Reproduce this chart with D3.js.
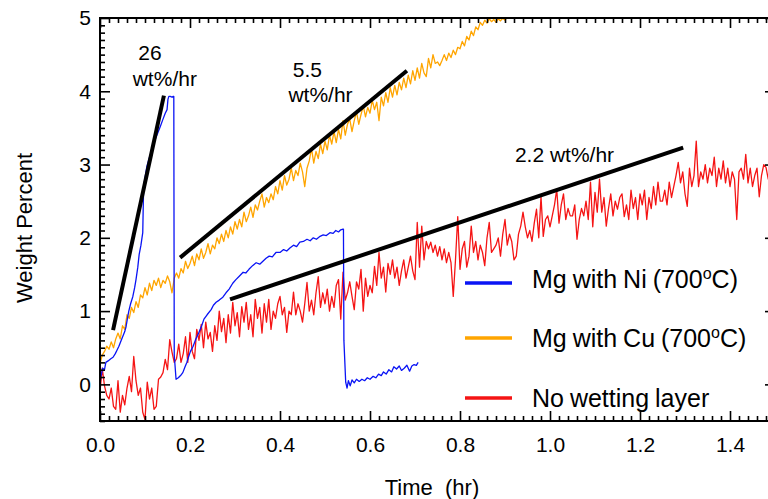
<!DOCTYPE html>
<html>
<head>
<meta charset="utf-8">
<script src="https://cdn.jsdelivr.net/npm/d3@7"></script>
<style>
  html, body { margin: 0; padding: 0; background: #fff; }
  svg { display: block; font-family: "Liberation Sans", Arial, sans-serif; }
</style>
</head>
<body>
<svg id="chart" width="768" height="499"></svg>
<script>
// ---- Data -------------------------------------------------------------
// Mg with Ni (700 °C): irregularly sampled [time (hr), weight %]
const niTime = [0.000,0.002,0.006,0.010,0.013,0.018,0.024,0.029,0.034,0.038,0.042,0.047,0.051,0.055,0.058,0.061,0.064,0.068,0.073,0.077,0.080,0.084,0.087,0.091,0.095,0.096,0.097,0.100,0.104,0.109,0.113,0.118,0.123,0.129,0.134,0.140,0.145,0.149,0.151,0.153,0.156,0.160,0.163,0.164,0.165,
  0.169,0.174,0.179,0.184,0.189,0.193,0.196,0.201,0.207,0.213,0.220,0.226,0.231,0.238,0.247,0.252,0.258,0.265,0.273,0.280,0.287,0.295,0.302,0.310,0.318,0.324,0.331,0.339,0.347,0.355,0.362,0.369,0.376,0.383,0.391,0.400,0.408,0.415,0.422,0.430,0.437,0.444,0.452,0.460,0.467,0.474,0.481,0.489,0.496,0.503,0.511,0.518,0.524,0.530,0.535,0.540,0.541,0.542,
  0.546,0.549,0.552,0.556,0.560,0.565,0.570,0.576,0.582,0.588,0.594,0.600,0.607,0.613,0.619,0.625,0.630,0.636,0.642,0.648,0.653,0.659,0.665,0.670,0.676,0.682,0.688,0.693,0.698,0.703,0.707];
const niWeight = [0.00,0.11,0.22,0.20,0.30,0.32,0.35,0.37,0.42,0.47,0.52,0.60,0.66,0.72,0.79,0.90,1.00,1.10,1.20,1.32,1.43,1.60,1.77,1.90,2.07,2.40,2.70,2.82,2.97,3.08,3.15,3.25,3.35,3.44,3.52,3.62,3.70,3.75,3.89,3.93,3.93,3.92,3.93,3.93,0.40,
  0.07,0.09,0.12,0.16,0.24,0.30,0.36,0.45,0.52,0.62,0.71,0.80,0.89,0.95,1.02,1.08,1.12,1.15,1.19,1.25,1.30,1.38,1.43,1.48,1.53,1.52,1.57,1.62,1.66,1.64,1.68,1.72,1.75,1.74,1.80,1.80,1.84,1.82,1.86,1.90,1.88,1.94,1.95,1.98,1.96,2.00,1.98,2.02,2.04,2.03,2.07,2.06,2.10,2.08,2.11,2.12,2.12,0.60,
  0.03,-0.05,0.05,-0.02,0.06,0.02,0.07,0.04,0.07,0.05,0.09,0.07,0.11,0.09,0.14,0.12,0.17,0.14,0.20,0.17,0.24,0.21,0.25,0.19,0.22,0.26,0.18,0.25,0.27,0.26,0.30];

// Mg with Cu (700 °C): logged every 0.005 hr from t = 0
const cuStep = 0.005;
const cuWeight = [0.28,0.40,0.45,0.52,0.48,0.58,0.50,0.62,0.70,0.62,0.80,0.75,0.95,0.90,1.05,0.98,1.13,1.05,1.22,1.18,1.32,1.22,1.38,1.28,1.42,1.35,1.45,1.32,1.42,1.38,1.48,1.40,
  1.25,1.45,1.52,1.45,1.58,1.52,1.68,1.58,1.65,1.75,1.62,1.78,1.70,1.85,1.72,1.80,1.92,1.78,1.90,1.85,2.00,1.92,2.05,1.95,2.10,2.00,2.15,2.05,2.22,2.12,2.25,2.15,
  2.35,2.22,2.30,2.42,2.28,2.45,2.38,2.50,2.60,2.42,2.55,2.48,2.60,2.52,2.70,2.60,2.78,2.65,2.85,2.72,2.80,2.95,2.78,2.92,2.85,3.02,2.90,2.70,2.95,3.05,3.22,3.02,3.18,3.08,3.28,3.15,3.32,3.20,3.40,3.28,3.45,3.30,3.48,3.35,3.60,3.40,3.55,3.62,3.45,
  3.60,3.72,3.55,3.68,3.80,3.65,3.78,3.70,3.88,3.75,3.85,3.60,3.92,3.80,3.98,3.85,4.05,3.92,4.08,3.95,4.12,4.02,4.18,4.05,4.22,4.10,4.28,4.15,4.32,4.18,4.38,4.25,4.20,4.45,4.32,4.50,4.38,
  4.40,4.35,4.42,4.50,4.42,4.52,4.46,4.56,4.50,4.60,
  4.58,4.68,4.62,4.75,4.70,4.82,4.76,4.88,4.84,4.94,4.90,4.97,4.93,4.99,4.95,4.98,4.94,4.99,4.96,5.00,4.97,5.02,5.10];

// No wetting layer: logged every 0.005 hr from t = 0
const bareStep = 0.005;
const bareWeight = [-0.10,0.22,-0.02,-0.15,-0.20,-0.05,-0.30,-0.34,0.05,-0.38,-0.15,-0.28,-0.05,0.11,-0.10,0.38,0.05,-0.15,-0.05,-0.38,-0.48,0.03,-0.20,-0.05,-0.34,-0.30,0.07,0.10,0.16,0.34,0.20,
  0.61,0.44,0.30,0.35,0.55,0.30,0.42,0.65,0.30,0.71,0.45,0.35,0.75,0.60,0.82,0.50,0.85,0.62,0.71,0.45,0.80,0.60,1.00,0.72,0.90,0.57,0.95,0.70,1.12,0.80,0.98,0.65,1.06,0.85,1.12,0.75,0.95,0.65,1.16,0.90,1.05,0.70,1.10,0.85,1.16,
  0.75,1.00,0.90,1.10,1.20,0.95,1.05,0.71,1.00,0.95,1.26,0.95,1.10,1.00,0.85,1.10,1.39,1.00,1.15,0.95,1.25,1.47,1.05,1.25,1.10,1.30,1.00,1.20,1.05,1.35,1.43,0.89,1.53,1.15,1.25,1.40,1.20,1.02,1.40,1.30,1.57,1.00,1.45,1.20,1.35,1.25,1.61,1.35,1.80,1.45,1.60,1.26,1.65,1.50,1.70,1.45,1.60,1.35,1.55,1.70,1.45,1.60,1.75,1.55,1.43,
  2.21,1.60,2.16,1.70,1.95,1.85,1.94,1.80,1.90,1.75,1.88,1.70,1.85,1.66,1.80,1.66,1.20,1.70,2.29,1.57,1.85,1.95,1.60,1.75,2.16,1.80,1.95,1.70,1.90,1.80,1.62,2.00,2.21,1.80,1.85,1.90,2.00,1.75,2.05,2.25,1.90,2.05,1.95,1.70,1.75,2.05,2.16,2.35,2.15,2.00,2.10,1.95,2.20,2.39,2.00,2.56,2.02,2.25,2.30,2.15,2.30,2.45,2.66,2.20,2.45,2.60,2.25,2.40,2.30,2.30,2.45,1.98,2.25,2.40,2.30,2.50,2.25,2.76,2.15,2.62,2.35,
  2.80,2.35,2.55,2.16,2.40,2.60,2.30,2.50,2.39,2.55,2.60,2.29,2.45,2.25,2.65,2.40,2.55,2.25,2.60,2.45,2.65,2.25,2.55,2.40,2.70,2.45,2.76,2.50,
  2.50,2.65,2.45,2.76,2.55,2.70,2.85,3.03,2.75,2.90,2.60,2.43,2.95,2.70,2.85,3.32,2.70,2.90,2.80,3.00,2.75,2.95,2.85,3.10,2.70,2.95,2.80,3.05,2.75,2.95,2.70,2.90,2.80,2.25,2.90,2.95,2.80,3.14,2.75,2.95,2.70,2.85,2.95,2.56,2.85,3.00,2.96,2.80,2.95,2.85,3.00];

// Fitted uptake-rate lines: start/end time (hr) and weight %
const rateStartT = [0.029, 0.178, 0.289];
const rateStartW = [0.74, 1.73, 1.16];
const rateEndT   = [0.142, 0.682, 1.296];
const rateEndW   = [3.94, 4.28, 3.23];

const seriesNames = ["Mg with Ni (700", "Mg with Cu (700", "No wetting layer"];
const seriesColors = ["#0a14f5", "#ffa500", "#f51414"];

const xMajorTicks = [0, 0.2, 0.4, 0.6, 0.8, 1.0, 1.2, 1.4];
const yMajorTicks = [0, 1, 2, 3, 4, 5];

// ---- Scales -----------------------------------------------------------
const svg = d3.select("#chart");
const x = d3.scaleLinear().domain([0, 1.5]).range([100, 775]);
const y = d3.scaleLinear().domain([-0.5, 5]).range([421, 18]);

const niPts = niTime.map((t, i) => [t, niWeight[i]]);
const cuPts = cuWeight.map((w, i) => [i * cuStep, w]);
const barePts = bareWeight.map((w, i) => [i * bareStep, w]);

svg.append("defs").append("clipPath").attr("id", "plotClip")
  .append("rect")
  .attr("x", x(0)).attr("y", y(5))
  .attr("width", x(1.5) - x(0)).attr("height", y(-0.5) - y(5));

const line = d3.line().x(d => x(d[0])).y(d => y(d[1]));

const plot = svg.append("g").attr("clip-path", "url(#plotClip)");

// red drawn first, orange, then blue on top
[[barePts, seriesColors[2]], [cuPts, seriesColors[1]], [niPts, seriesColors[0]]].forEach(([pts, c]) => {
  plot.append("path")
    .datum(pts)
    .attr("d", line)
    .attr("fill", "none")
    .attr("stroke", c)
    .attr("stroke-width", 1.3)
    .attr("stroke-linejoin", "round");
});

// rate fit lines
rateStartT.forEach((t0, i) => {
  plot.append("line")
    .attr("x1", x(t0)).attr("y1", y(rateStartW[i]))
    .attr("x2", x(rateEndT[i])).attr("y2", y(rateEndW[i]))
    .attr("stroke", "#000").attr("stroke-width", 4);
});

// ---- Axes -------------------------------------------------------------
const xMinor = d3.range(0, 1.5001, 0.02).filter(v => Math.abs(v * 5 - Math.round(v * 5)) > 1e-6);
const yMinor = d3.range(-0.5, 5.0001, 0.1).filter(v => Math.abs(v - Math.round(v)) > 1e-6);

function styleAxis(g) {
  g.select(".domain").remove();
  g.selectAll(".tick line").attr("stroke", "#000").attr("stroke-width", 1.6);
  g.selectAll("text").attr("fill", "#000").attr("font-size", 21);
}

const fmt = d3.format(".1f");

svg.append("g").attr("transform", `translate(0,${y(-0.5)})`)
  .call(d3.axisBottom(x).tickValues(xMajorTicks).tickSize(-10).tickPadding(16).tickFormat(fmt))
  .call(styleAxis).attr("font-family", null);
svg.append("g").attr("transform", `translate(0,${y(-0.5)})`)
  .call(d3.axisBottom(x).tickValues(xMinor).tickSize(-5).tickFormat(""))
  .call(styleAxis);
svg.append("g").attr("transform", `translate(0,${y(5)})`)
  .call(d3.axisTop(x).tickValues(xMajorTicks).tickSize(-10).tickFormat(""))
  .call(styleAxis);
svg.append("g").attr("transform", `translate(0,${y(5)})`)
  .call(d3.axisTop(x).tickValues(xMinor).tickSize(-5).tickFormat(""))
  .call(styleAxis);

svg.append("g").attr("transform", `translate(${x(0)},0)`)
  .call(d3.axisLeft(y).tickValues(yMajorTicks).tickSize(-10).tickPadding(9).tickFormat(d3.format("d")))
  .call(styleAxis).attr("font-family", null);
svg.append("g").attr("transform", `translate(${x(0)},0)`)
  .call(d3.axisLeft(y).tickValues(yMinor).tickSize(-5).tickFormat(""))
  .call(styleAxis);
svg.append("g").attr("transform", `translate(${x(1.5)},0)`)
  .call(d3.axisRight(y).tickValues(yMajorTicks).tickSize(-10).tickFormat(""))
  .call(styleAxis);
svg.append("g").attr("transform", `translate(${x(1.5)},0)`)
  .call(d3.axisRight(y).tickValues(yMinor).tickSize(-5).tickFormat(""))
  .call(styleAxis);

// frame
svg.append("rect")
  .attr("x", x(0)).attr("y", y(5))
  .attr("width", x(1.5) - x(0)).attr("height", y(-0.5) - y(5))
  .attr("fill", "none").attr("stroke", "#000").attr("stroke-width", 2);

// axis titles
svg.append("text")
  .attr("x", 432).attr("y", 495)
  .attr("text-anchor", "middle").attr("font-size", 22)
  .style("white-space", "pre")
  .text("Time  (hr)");
svg.append("text")
  .attr("transform", "translate(32,228) rotate(-90)")
  .attr("text-anchor", "middle").attr("font-size", 22)
  .text("Weight Percent");

// rate annotations
const ann = svg.append("g").attr("font-size", 21).attr("fill", "#000");
ann.append("text").attr("x", x(0.111)).attr("y", y(4.42)).attr("text-anchor", "middle").text("26");
ann.append("text").attr("x", x(0.144)).attr("y", y(4.07)).attr("text-anchor", "middle").text("wt%/hr");
ann.append("text").attr("x", x(0.461)).attr("y", y(4.20)).attr("text-anchor", "middle").text("5.5");
ann.append("text").attr("x", x(0.490)).attr("y", y(3.86)).attr("text-anchor", "middle").text("wt%/hr");
ann.append("text").attr("x", x(0.922)).attr("y", y(3.03)).attr("text-anchor", "start").text("2.2 wt%/hr");

// ---- Legend -----------------------------------------------------------
const legendY = [283, 338, 398];
const labelDrop = [5, 9, 9];
const legend = svg.append("g");
seriesNames.forEach((name, i) => {
  legend.append("line")
    .attr("x1", 465).attr("x2", 512)
    .attr("y1", legendY[i]).attr("y2", legendY[i])
    .attr("stroke", seriesColors[i]).attr("stroke-width", 3.5);
  const t = legend.append("text")
    .attr("x", 532).attr("y", legendY[i] + labelDrop[i])
    .attr("font-size", 25).attr("fill", "#000")
    .attr("word-spacing", -1);
  t.append("tspan").text(name);
  if (i < 2) {
    t.append("tspan").attr("font-size", 16).attr("dy", -9).text("o");
    t.append("tspan").attr("dy", 9).text("C)");
  }
});
</script>
</body>
</html>
